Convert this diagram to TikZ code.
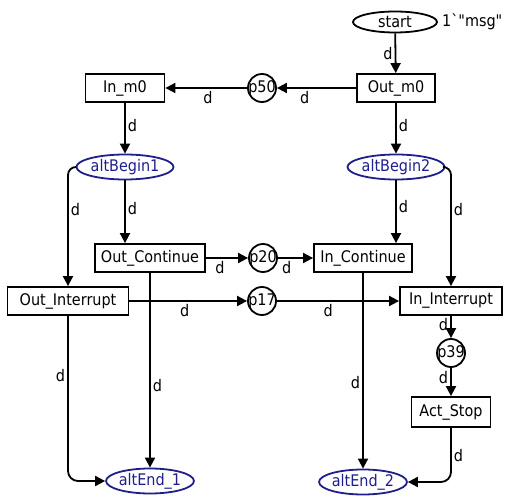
\documentclass[tikz,border=0pt]{standalone}
\usepackage{fontspec}
\setmainfont{DejaVu Sans Condensed}
\usetikzlibrary{arrows.meta,calc,shapes.geometric}
\definecolor{AltClr}{rgb}{0.12,0.12,0.55}
\definecolor{NetClr}{rgb}{0,0,0}

\begin{document}
\begin{tikzpicture}[x=1pt,y=-1pt,font=\fontsize{16}{18}\selectfont,
  trans/.style={draw=NetClr,line width=1.8pt,minimum height=28pt,inner sep=3pt},
  place/.style={draw=NetClr,circle,line width=1.8pt,minimum size=28pt,inner sep=-5pt},
  alt/.style={draw=AltClr,text=AltClr,ellipse,line width=1.8pt,minimum height=25pt,inner sep=0pt},
  arc/.style={line width=1.8pt,-{Triangle[length=10pt,width=10pt]}},
  lbl/.style={inner sep=2pt}]
\useasboundingbox (0,0) rectangle (509,497);

% Θέσεις (places) του δικτύου.
\node[place,ellipse,minimum width=84pt,minimum height=21pt] (start) at (395,22) {start};
\node[right,inner sep=4pt] (tok) at (start.east) {1\textasciigrave\textquotedbl msg\textquotedbl};
\node[place] (p50) at (262,88) {p50};
\node[place] (p20) at (263,258) {p20};
\node[place] (p17) at (262,301) {p17};
\node[place] (p39) at (451,353) {p39};
\node[alt,minimum width=93pt] (altB1) at (125,167) {altBegin1};
\node[alt,minimum width=87pt] (altB2) at (396,167) {altBegin2};
\node[alt,minimum width=84pt] (altE1) at (150,481) {altEnd\_1};
\node[alt,minimum width=82pt] (altE2) at (363,482) {altEnd\_2};

% Μεταβάσεις (transitions).
\node[trans,minimum width=78pt] (outM) at (396,88) {Out\_m0};
\node[trans,minimum width=79pt] (inM) at (125,88) {In\_m0};
\node[trans,minimum width=110pt] (outC) at (150,258) {Out\_Continue};
\node[trans,minimum width=98pt] (inC) at (363,258) {In\_Continue};
\node[trans,minimum width=121pt] (outI) at (68,301) {Out\_Interrupt};
\node[trans,minimum width=102pt] (inI) at (451,301) {In\_Interrupt};
\node[trans,minimum width=79pt,minimum height=30pt] (stop) at (451,412) {Act\_Stop};

% Τόξα με τις επιγραφές τους.
\draw[arc] (start) -- node[lbl,left] {d} (outM);
\draw[arc] (outM) -- node[lbl,below,pos=.65] {d} (p50);
\draw[arc] (p50) -- node[lbl,below,pos=.48] {d} (inM);
\draw[arc] (inM) -- node[lbl,right,pos=.45] {d} (altB1);
\draw[arc] (outM) -- node[lbl,right,pos=.45] {d} (altB2);
\draw[arc,rounded corners=8pt] (altB1.west) -| node[lbl,right,pos=.68] {d} (outI.north);
\draw[arc] (altB1) -- node[lbl,right,pos=.45] {d} (altB1 |- outC.north);
\draw[arc] (altB2) -- node[lbl,right,pos=.42] {d} (altB2 |- inC.north);
\draw[arc,rounded corners=8pt] (altB2.east) -| node[lbl,right,pos=.68] {d} (inI.north);
\draw[arc] (outC) -- node[lbl,below,pos=.33] {d} (p20);
\draw[arc] (p20) -- node[lbl,below,pos=.25] {d} (inC);
\draw[arc] (outI) -- node[lbl,below,pos=.47] {d} (p17);
\draw[arc] (p17) -- node[lbl,below,pos=.42] {d} (inI);
\draw[arc,rounded corners=10pt] (outI.south) |- node[lbl,left,pos=.18] {d} (altE1.west);
\draw[arc] (outC) -- node[lbl,right,pos=.58] {d} (altE1);
\draw[arc] (inC) -- node[lbl,left,pos=.56] {d} (altE2);
\draw[arc] (inI) -- node[lbl,left,pos=.4] {d} (p39);
\draw[arc] (p39) -- node[lbl,left,pos=.35] {d} (stop);
\draw[arc,rounded corners=10pt] (stop.south) |- node[lbl,right,pos=.26] {d} (altE2.east);

\end{tikzpicture}
\end{document}
